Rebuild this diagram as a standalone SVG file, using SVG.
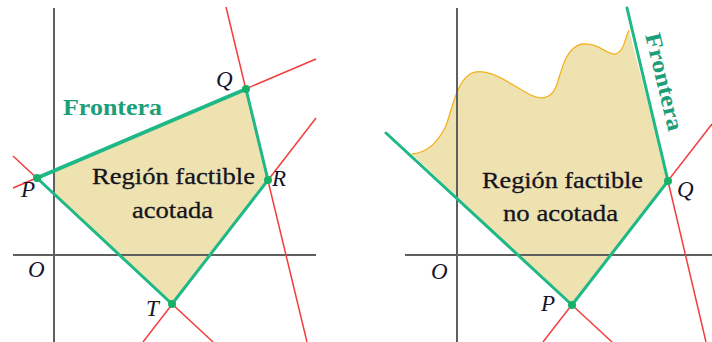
<svg xmlns="http://www.w3.org/2000/svg" width="712" height="342" viewBox="0 0 712 342">
<style>
.fill{fill:#efe2b1;stroke:none}
.axis{stroke:#5f5f5f;stroke-width:2;fill:none}
.red{stroke:#f23d3d;stroke-width:1.5;fill:none}
.green{stroke:#1fb887;stroke-width:3;fill:none;stroke-linecap:round}
.thick{stroke-width:4}
.dot{fill:#17b067}
.curve{stroke:#f3b21f;stroke-width:1.3;fill:none}
.region{font-family:'Liberation Serif','Times New Roman',Times,serif;font-size:24px;fill:#14141e;stroke:#14141e;stroke-width:0.3}
.lbl{font-family:'Liberation Serif','Times New Roman',Times,serif;font-size:23px;font-style:italic;fill:#14142a}
.front{font-family:'Liberation Serif','Times New Roman',Times,serif;font-size:23px;font-weight:bold;fill:#1c9e78}
</style>
<rect width="712" height="342" fill="#ffffff"/>

<g id="left-panel">
  <polygon class="fill" points="54,170.8 246,89 268,180 172,304 54,193.9"/>
  <g id="left-axes">
    <line class="axis" x1="54" y1="8" x2="54" y2="342"/>
    <line class="axis" x1="13" y1="255" x2="316" y2="255"/>
  </g>
  <g id="left-connectors">
    <line class="red" x1="13" y1="188" x2="316" y2="59"/>
    <line class="red" x1="13" y1="156" x2="213" y2="342"/>
    <line class="red" x1="226" y1="7" x2="307" y2="342"/>
    <line class="red" x1="316" y1="118" x2="143" y2="342"/>
    <line class="green thick" x1="37" y1="178" x2="246" y2="89"/>
    <line class="green" x1="246" y1="89" x2="268" y2="180"/>
    <line class="green" x1="268" y1="180" x2="172" y2="304"/>
    <line class="green" x1="172" y1="304" x2="37" y2="178"/>
  </g>
  <g id="left-P"><circle class="dot" cx="37" cy="178" r="4"/><text class="lbl" x="21" y="197">P</text></g>
  <g id="left-Q"><circle class="dot" cx="246" cy="89" r="4"/><text class="lbl" x="216" y="87">Q</text></g>
  <g id="left-R"><circle class="dot" cx="268" cy="180" r="4"/><text class="lbl" x="272" y="186">R</text></g>
  <g id="left-T"><circle class="dot" cx="172" cy="304" r="4"/><text class="lbl" x="146" y="316">T</text></g>
  <g id="left-O"><text class="lbl" x="28" y="277">O</text></g>
  <g id="left-frontera"><text class="front" x="63" y="115" textLength="99" lengthAdjust="spacingAndGlyphs">Frontera</text></g>
  <g id="left-region">
    <text class="region" x="92" y="184" textLength="163" lengthAdjust="spacingAndGlyphs">Región factible</text>
    <text class="region" x="132" y="218" textLength="81" lengthAdjust="spacingAndGlyphs">acotada</text>
  </g>
</g>

<g id="right-panel">
  <path class="fill" d="M412,154 C425,153 436,145 445,128 C452,112 455,84 470,74 C485,66 505,80 525,92 C540,101 550,100 556,87 C562,70 565,48 582,44 C598,42 608,56 616,54 C625,50 624,40 629,30 L668,181 L572,305 Z"/>
  <path class="curve" d="M412,154 C425,153 436,145 445,128 C452,112 455,84 470,74 C485,66 505,80 525,92 C540,101 550,100 556,87 C562,70 565,48 582,44 C598,42 608,56 616,54 C625,50 624,40 629,30"/>
  <g id="right-axes">
    <line class="axis" x1="457" y1="8" x2="457" y2="342"/>
    <line class="axis" x1="405" y1="255" x2="712" y2="255"/>
  </g>
  <g id="right-connectors">
    <line class="red" x1="543" y1="342" x2="712" y2="124"/>
    <line class="red" x1="572" y1="305" x2="612" y2="342"/>
    <line class="red" x1="668" y1="181" x2="706" y2="342"/>
    <line class="green" x1="386" y1="133" x2="572" y2="305"/>
    <line class="green" x1="572" y1="305" x2="668" y2="181"/>
    <line class="green" x1="668" y1="181" x2="627" y2="8"/>
  </g>
  <g id="right-P"><circle class="dot" cx="572" cy="305" r="4"/><text class="lbl" x="541" y="311">P</text></g>
  <g id="right-Q"><circle class="dot" cx="668" cy="181" r="4"/><text class="lbl" x="677" y="197">Q</text></g>
  <g id="right-O"><text class="lbl" x="431" y="279">O</text></g>
  <g id="right-frontera"><text class="front" transform="translate(645,35) rotate(76.4)" textLength="100" lengthAdjust="spacingAndGlyphs">Frontera</text></g>
  <g id="right-region">
    <text class="region" x="482" y="188" textLength="161" lengthAdjust="spacingAndGlyphs">Región factible</text>
    <text class="region" x="503" y="221" textLength="115" lengthAdjust="spacingAndGlyphs">no acotada</text>
  </g>
</g>
</svg>
